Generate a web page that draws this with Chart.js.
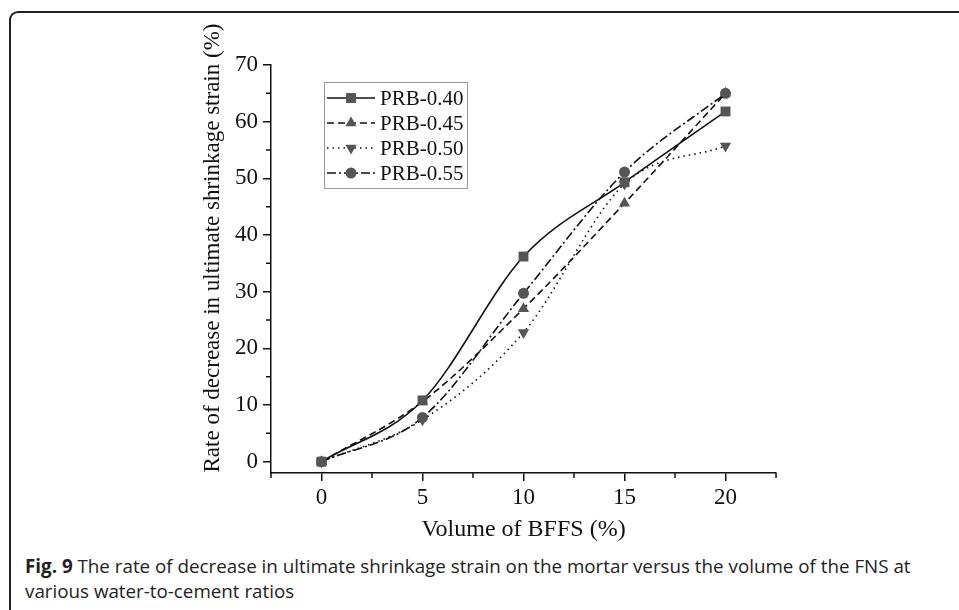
<!DOCTYPE html>
<html>
<head>
<meta charset="utf-8">
<script src="https://cdn.jsdelivr.net/npm/chart.js@4.4.1/dist/chart.umd.min.js"></script>
<style>
  body { margin: 0; background: #fff; }
  #wrap { position: relative; width: 959px; height: 610px; overflow: hidden; }
  #frame {
    position: absolute; left: 9px; top: 11px; width: 1000px; height: 700px;
    border-left: 2px solid #222; border-top: 2px solid #222; border-top-left-radius: 9px;
  }
  #chartBox { position: absolute; left: 0; top: 0; width: 959px; height: 548px; }
  #caption {
    position: absolute; left: 25px; top: 554px; width: 895px;
    font-family: "Open Sans", sans-serif; font-size: 18.8px; line-height: 25px; color: #222;
  }
  #caption b { font-weight: 700; }
</style>
</head>
<body>
<div id="wrap">
  <div id="frame"></div>
  <div id="chartBox"><canvas id="shrinkChart" width="959" height="548"></canvas></div>
  <div id="caption"><b>Fig. 9</b> The rate of decrease in ultimate shrinkage strain on the mortar versus the volume of the FNS at various water-to-cement ratios</div>
</div>
<script>
// values
var volumes = [0, 5, 10, 15, 20];
var prb040 = [0, 10.8, 36.2, 49.3, 61.8];
var prb045 = [0, 10.6, 27.0, 45.6, 65.0];
var prb050 = [0, 7.4, 22.8, 49.0, 55.7];
var prb055 = [0, 7.8, 29.7, 51.1, 65.0];
var seriesNames = ["PRB-0.40", "PRB-0.45", "PRB-0.50", "PRB-0.55"];
var xTicks = [0, 5, 10, 15, 20];
var yTicks = [0, 10, 20, 30, 40, 50, 60, 70];
var xMinor = [-2.5, 2.5, 7.5, 12.5, 17.5, 22.5];
var yMinor = [5, 15, 25, 35, 45, 55, 65];
var yTitle = "Rate of decrease in ultimate shrinkage strain (%)";

var markerColor = "#555";
var serifFamily = "'Liberation Serif', 'Times New Roman', serif";
var styles = [
  { dash: [], point: "rect", radius: 7, rot: 0 },
  { dash: [7, 4], point: "triangle", radius: 6.5, rot: 0 },
  { dash: [1.5, 4], point: "triangle", radius: 6.5, rot: 180 },
  { dash: [9, 3, 2, 3], point: "circle", radius: 5.5, rot: 0 },
];

function makeSet(name, values, st) {
  return {
    label: name,
    data: volumes.map(function (v, i) { return { x: v, y: values[i] }; }),
    borderColor: "#111",
    borderWidth: 1.6,
    borderDash: st.dash,
    cubicInterpolationMode: "monotone",
    pointStyle: st.point,
    pointRadius: st.radius,
    pointRotation: st.rot,
    pointBackgroundColor: markerColor,
    pointBorderColor: markerColor,
    pointBorderWidth: 0,
  };
}

// legend drawn by hand: line sample + marker + text
var legendPlugin = {
  id: "boxLegend",
  afterDraw: function (chart) {
    var ctx = chart.ctx;
    var left = 324, top = 82, w = 143, h = 106;
    ctx.save();
    ctx.strokeStyle = "#999";
    ctx.lineWidth = 1;
    ctx.strokeRect(left + 0.5, top + 0.5, w, h);
    styles.forEach(function (st, i) {
      var y = top + 16 + i * 25;
      ctx.strokeStyle = "#111";
      ctx.lineWidth = 1.5;
      ctx.setLineDash(st.dash);
      ctx.beginPath();
      ctx.moveTo(left + 3, y);
      ctx.lineTo(left + 51, y);
      ctx.stroke();
      ctx.setLineDash([]);
      ctx.fillStyle = markerColor;
      Chart.helpers.drawPoint(ctx, { pointStyle: st.point, radius: st.radius, rotation: st.rot, borderWidth: 0 }, left + 27, y);
      ctx.fillStyle = "#111";
      ctx.font = "21px " + serifFamily;
      ctx.textBaseline = "middle";
      ctx.fillText(seriesNames[i], left + 56, y + 1);
    });
    ctx.restore();
  },
};

// short minor ticks on both axes, and the y title (sits a bit above the plot centre)
var extras = {
  id: "extras",
  afterDraw: function (chart) {
    var ctx = chart.ctx;
    var xs = chart.scales.x, ys = chart.scales.y;
    ctx.save();
    ctx.strokeStyle = "#111";
    ctx.lineWidth = 1.5;
    ctx.beginPath();
    xMinor.forEach(function (v) {
      var px = xs.getPixelForValue(v);
      ctx.moveTo(px, chart.chartArea.bottom);
      ctx.lineTo(px, chart.chartArea.bottom + 5);
    });
    yMinor.forEach(function (v) {
      var py = ys.getPixelForValue(v);
      ctx.moveTo(chart.chartArea.left, py);
      ctx.lineTo(chart.chartArea.left - 5, py);
    });
    ctx.stroke();

    ctx.translate(213, 248);
    ctx.rotate(-Math.PI / 2);
    ctx.fillStyle = "#111";
    ctx.font = "23px " + serifFamily;
    ctx.textAlign = "center";
    ctx.textBaseline = "middle";
    ctx.fillText(yTitle, 0, 0);
    ctx.restore();
  },
};

var tickFont = { family: serifFamily, size: 23 };

new Chart(document.getElementById("shrinkChart"), {
  type: "line",
  data: {
    datasets: [
      makeSet(seriesNames[0], prb040, styles[0]),
      makeSet(seriesNames[1], prb045, styles[1]),
      makeSet(seriesNames[2], prb050, styles[2]),
      makeSet(seriesNames[3], prb055, styles[3]),
    ],
  },
  options: {
    responsive: false,
    animation: false,
    layout: { padding: { left: 200, top: 65, right: 183, bottom: 0 } },
    plugins: { legend: { display: false }, tooltip: { enabled: false } },
    scales: {
      x: {
        type: "linear",
        min: -2.5,
        max: 22.5,
        afterBuildTicks: function (s) { s.ticks = xTicks.map(function (v) { return { value: v }; }); },
        afterFit: function (s) { s.height = 75; },
        grid: { display: true, drawOnChartArea: false, tickLength: 8, color: "#111", lineWidth: 1.5 },
        border: { color: "#111", width: 1.5 },
        ticks: { color: "#111", font: tickFont, padding: 3 },
        title: { display: true, text: "Volume of BFFS (%)", color: "#111", font: { family: serifFamily, size: 24 }, padding: { top: 0 } },
      },
      y: {
        min: -2,
        max: 70,
        afterBuildTicks: function (s) { s.ticks = yTicks.map(function (v) { return { value: v }; }); },
        afterFit: function (s) { s.width = 71; },
        grid: { display: true, drawOnChartArea: false, tickLength: 8, color: "#111", lineWidth: 1.5 },
        border: { color: "#111", width: 1.5 },
        ticks: { color: "#111", font: tickFont, padding: 5 },
      },
    },
  },
  plugins: [legendPlugin, extras],
});
</script>
</body>
</html>
